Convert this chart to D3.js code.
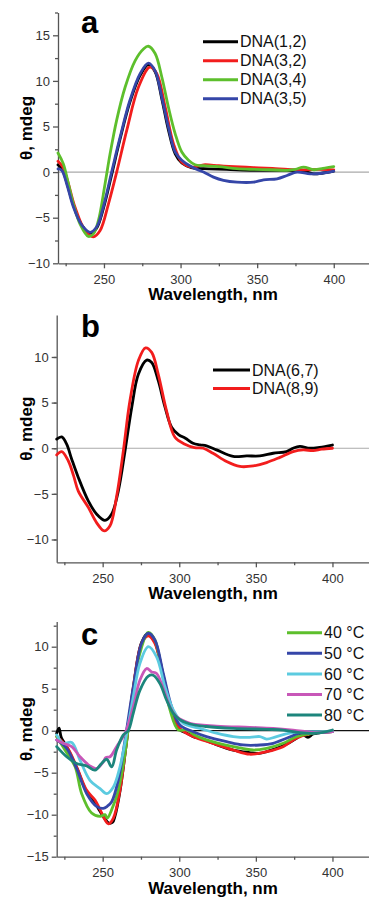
<!DOCTYPE html>
<html>
<head>
<meta charset="utf-8">
<script src="https://cdn.jsdelivr.net/npm/d3@7"></script>
<style>
  body { margin: 0; background: #fff; }
  svg { display: block; font-family: Arial, "Liberation Sans", sans-serif; }
  .axis path, .axis line { stroke: #555; stroke-width: 1.3; }
  .axis text { font-size: 13px; fill: #333; }
  .curve { fill: none; stroke-width: 2.8; stroke-linejoin: round; stroke-linecap: round; }
</style>
</head>
<body>
<svg width="369" height="901"></svg>
<script>
// ---- panel a : CD spectra, [wavelength nm, theta mdeg]
const a_dna12 = [[220,0.8],[222.5,0.4],[225.5,-1.0],[230,-3.6],[235.5,-5.8],[241,-6.7],[245,-6.2],[249.6,-4.0],[255,-0.3],[260.5,3.6],[267,7.7],[273.6,10.6],[279,11.8],[283.4,11.0],[287.8,8.0],[292.1,4.6],[296.5,2.0],[300.8,1.0],[307,0.5],[315,0.37],[330,0.3],[347.7,0.2],[365,0.2],[380,0.1],[387,-0.2],[393,-0.1],[400,0.1]];
const a_dna32 = [[220,1.2],[223,0.6],[226,-0.8],[231,-3.8],[237.6,-6.4],[243,-7.1],[247.5,-6.4],[252.9,-3.5],[258.3,0],[264.9,4.6],[272.5,9.3],[280,11.5],[284.5,10.8],[290,7.1],[295.4,3.1],[300.8,1.1],[307.4,0.55],[315,0.8],[325,0.7],[335,0.6],[347.7,0.5],[360,0.4],[370,0.3],[380,0.25],[390,0.3],[400,0.25]];
const a_dna34 = [[220,2.1],[223.5,0.9],[226.8,-1.3],[230,-3.5],[234.4,-5.7],[239.8,-7.05],[243,-6.8],[246.4,-5.3],[250.7,-1.3],[254,2.0],[258.3,5.7],[263.8,9.3],[270.3,12.2],[275.8,13.5],[279,13.8],[283.4,13.0],[287.8,10.4],[292.1,7.1],[296.5,4.2],[300.8,2.2],[305.2,1.3],[309.5,0.8],[315,0.7],[325,0.6],[336.8,0.37],[348,0.3],[358.6,0.26],[369.5,0.2],[375,0.3],[380.3,0.55],[387,0.26],[393,0.4],[400,0.6]];
const a_dna35 = [[220,0.35],[222.4,0.2],[225.7,-1.3],[230,-3.8],[235.5,-5.8],[241,-6.6],[245.3,-6.0],[249.6,-3.8],[255,0],[260.5,3.8],[267,7.9],[273.6,10.8],[279,11.95],[283.4,11.1],[287.8,8.2],[292.1,4.9],[296.5,2.2],[300.8,1.3],[307.4,0.55],[315,0],[321.5,-0.55],[328,-0.9],[336.8,-1.1],[347.7,-1.1],[354.2,-0.85],[363,-0.73],[369.5,-0.37],[376,0],[384.7,-0.2],[393.4,-0.1],[400,0.1]];

// ---- panel b
const b_dna67 = [[220,1.0],[223.3,1.24],[226.5,0.44],[229.8,-1.2],[234.1,-3.2],[240.7,-5.8],[246,-7.2],[251.5,-7.9],[255.9,-7.2],[260.2,-4.7],[264.6,-0.3],[269,4.5],[273.3,8.1],[278.7,9.65],[282,9.4],[286.3,7.4],[290.7,4.5],[295,2.3],[299.5,1.5],[304,1.1],[309,0.55],[313.5,0.37],[317.8,0.26],[324.3,-0.18],[335.2,-0.9],[344,-0.84],[352.6,-0.84],[361.3,-0.55],[370,-0.37],[374.3,0.0],[378.7,0.2],[385.2,0],[391.7,0.1],[400,0.35]];
const b_dna89 = [[220,-0.73],[223.3,-0.37],[227.6,-1.4],[231,-3.0],[234.1,-4.7],[240.7,-6.5],[246,-8.15],[251,-9.06],[254.8,-8.5],[259.1,-5.3],[263.5,-0.3],[267.8,5.2],[273.3,9.6],[278,11.0],[282,10.5],[286.3,8.1],[291.7,4.1],[297.2,1.2],[303.7,0.44],[310,0.07],[315.7,0],[322,-0.55],[330.9,-1.46],[339.6,-2.0],[348.3,-1.94],[357,-1.57],[365.7,-1.0],[374.3,-0.37],[380.9,-0.18],[387.4,-0.26],[393,-0.1],[400,0]];

// ---- panel c : temperature series
const c_black = [[220,-0.3],[221.5,0.3],[223,-0.8],[226.5,-1.9],[233,-4.4],[239.6,-7.3],[245,-8.6],[248.3,-9.6],[251.5,-10.5],[254,-11.0],[256.5,-10.9],[258,-10.2],[261.3,-7.2],[265.7,-1.2],[270,5.0],[275.4,10.5],[279.8,11.6],[284.1,10.6],[289.6,6.5],[295,2.2],[300.4,0.1],[305,-0.3],[309.1,-0.7],[315,-1.0],[322,-1.5],[335.2,-2.3],[346,-2.6],[352,-2.7],[357,-2.5],[367.8,-1.8],[376.5,-0.9],[380,-0.4],[384,-0.8],[387.4,-0.4],[400,-0.1]];
const c_red = [[220,-0.7],[226.5,-1.9],[233,-4.3],[239.6,-7.1],[245,-8.25],[248.3,-9.4],[251.5,-10.6],[253.7,-11.1],[257,-10.4],[261.3,-7.1],[265.7,-1.1],[270,5.2],[275.4,10.4],[279.8,11.3],[284.1,10.4],[289.6,6.4],[295,2.5],[300.4,0.28],[309.1,-0.7],[322,-1.5],[335.2,-2.3],[346,-2.8],[357,-2.5],[367.8,-1.9],[376.5,-0.9],[387.4,-0.3],[400,-0.12]];
const c_40 = [[220,-0.7],[225.4,-2.3],[232,-4.3],[236.3,-7.5],[242.8,-9.8],[248.3,-10.2],[251.5,-10.0],[253,-10.4],[255.9,-9.4],[260.2,-7.1],[264.6,-2.7],[269,3.65],[274.3,9.2],[279.8,11.7],[284.1,10.8],[288.5,7.2],[293.9,2.5],[299.3,0.1],[304.8,0.1],[310,-0.5],[317.8,-1.1],[335.2,-1.9],[348.3,-2.3],[357,-2.1],[367.8,-1.5],[376.5,-0.7],[387.4,-0.3],[400,-0.12]];
const c_50 = [[220,-1.1],[226.5,-2.1],[233,-4.5],[239.6,-7.5],[246,-9.0],[250.4,-9.25],[253,-9.0],[255.9,-8.45],[260.2,-5.9],[264.6,-1.1],[270,5.2],[275.4,10.4],[279.8,11.6],[284.1,10.8],[289.6,6.8],[295,2.86],[300.4,0.67],[309.1,-0.12],[317.8,-0.7],[330.9,-1.3],[341.7,-1.7],[352.6,-1.7],[361.3,-1.5],[370,-0.9],[378.7,-0.3],[389.6,-0.24],[400,-0.12]];
const c_60 = [[220,-0.5],[224.3,-1.5],[229.8,-1.4],[235.2,-3.5],[241.7,-5.9],[248.3,-6.9],[252.6,-7.5],[257,-6.7],[261.3,-4.3],[265.7,-0.3],[270,4.05],[274.3,8.0],[279.8,10.0],[285.2,8.8],[290.7,5.2],[296,2.5],[302.6,0.87],[313.5,0.28],[324.3,-0.3],[335.2,-0.7],[346,-0.8],[352.6,-0.7],[357,-1.0],[363.5,-0.7],[372.2,-0.3],[383,-0.12],[400,-0.12]];
const c_70 = [[220,-1.1],[224.3,-1.5],[229.8,-1.9],[235.2,-3.1],[241.7,-4.2],[246,-4.5],[250.4,-3.7],[252,-3.2],[254.8,-3.1],[259.1,-1.9],[264.6,-0.3],[270,2.86],[274.3,6.0],[278.7,7.4],[282,7.0],[285.2,6.8],[289.6,5.0],[293.9,2.86],[298.3,1.67],[307,0.87],[324.3,0.55],[346,0.4],[361.3,0.28],[374.3,0.08],[389.6,-0.24],[400,-0.12]];
const c_80 = [[220,-1.9],[226.5,-3.1],[233,-3.9],[239.6,-4.2],[245,-4.7],[249.3,-3.9],[252.6,-3.4],[255.9,-4.3],[259.1,-2.3],[263.5,-0.5],[266.7,0],[270,2.1],[274.3,4.8],[279.8,6.5],[283,6.6],[287.4,5.6],[291.7,3.65],[296,2.1],[300.4,1.3],[307,0.8],[317.8,0.5],[335.2,0.28],[357,0.16],[367.8,0.08],[378.7,-0.24],[389.6,-0.3],[400,0.08]];

// ticks / labels
const xTicks = [250, 300, 350, 400];
const xMinor = [225, 275, 325, 375, 425];
const aTicks = [-10, -5, 0, 5, 10, 15];
const bTicks = [-10, -5, 0, 5, 10];
const cTicks = [-15, -10, -5, 0, 5, 10];

const aNames = ['DNA(1,2)', 'DNA(3,2)', 'DNA(3,4)', 'DNA(3,5)'];
const bNames = ['DNA(6,7)', 'DNA(8,9)'];
const cNames = ['40 °C', '50 °C', '60 °C', '70 °C', '80 °C'];

const BLACK = '#000', RED = '#f21d1d', GREEN = '#5dbf2c', BLUE = '#3546a8',
      CYAN = '#5ccbe0', MAGENTA = '#c857b8', TEAL = '#1c857c';

const svg = d3.select('svg');
svg.append('rect').attr('width', 369).attr('height', 901).attr('fill', '#fff');

const panels = [
  { letter: 'a', left: 58, top: 12.5, bottom: 263.3, yDom: [-10, 17.5], yTicks: aTicks,
    zero: '#aaa', letterY: 33,
    series: [a_dna12, a_dna32, a_dna34, a_dna35], colors: [BLACK, RED, GREEN, BLUE],
    legend: { names: aNames, colors: [BLACK, RED, GREEN, BLUE], x1: 203, x2: 238, y0: 41.7, dy: 19, size: 16 } },
  { letter: 'b', left: 56.7, top: 315, bottom: 562.3, yDom: [-12.5, 14.6], yTicks: bTicks,
    zero: '#aaa', letterY: 337,
    series: [b_dna67, b_dna89], colors: [BLACK, RED],
    legend: { names: bNames, colors: [BLACK, RED], x1: 213, x2: 250, y0: 370, dy: 18.5, size: 16 } },
  { letter: 'c', left: 56.7, top: 621.5, bottom: 856.7, yDom: [-15, 13], yTicks: cTicks,
    zero: '#111', letterY: 645,
    series: [c_black, c_red, c_40, c_50, c_60, c_70, c_80],
    colors: [BLACK, RED, GREEN, BLUE, CYAN, MAGENTA, TEAL],
    legend: { names: cNames, colors: [GREEN, BLUE, CYAN, MAGENTA, TEAL], x1: 287, x2: 322, y0: 632.7, dy: 20.6, size: 16 } }
];

panels.forEach(p => {
  const g = svg.append('g');
  const x = d3.scaleLinear().domain([220, 425]).range([p.left, p.left + 205 * 1.532]);
  const y = d3.scaleLinear().domain(p.yDom).range([p.bottom, p.top]);

  // minor ticks
  const yMinor = d3.range(p.yDom[0] + 2.5, p.yDom[1] + 0.01, 5).filter(v => v < p.yDom[1] + 0.01);
  g.append('g').attr('class', 'axis').attr('transform', `translate(${p.left},0)`)
    .call(d3.axisLeft(y).tickValues(yMinor).tickSize(3).tickFormat(''))
    .call(s => s.select('.domain').remove());
  g.append('g').attr('class', 'axis').attr('transform', `translate(0,${p.bottom})`)
    .call(d3.axisBottom(x).tickValues(xMinor).tickSize(3).tickFormat(''))
    .call(s => s.select('.domain').remove());

  // zero line
  g.append('line')
    .attr('x1', p.left).attr('x2', 369)
    .attr('y1', y(0)).attr('y2', y(0))
    .attr('stroke', p.zero).attr('stroke-width', 1.2);

  // main axes
  g.append('g').attr('class', 'axis').attr('transform', `translate(${p.left},0)`)
    .call(d3.axisLeft(y).tickValues(p.yTicks).tickSize(5).tickSizeOuter(0).tickPadding(3));
  g.append('g').attr('class', 'axis').attr('transform', `translate(0,${p.bottom})`)
    .call(d3.axisBottom(x).tickValues(xTicks).tickSize(5).tickSizeOuter(0).tickPadding(6));

  // curves
  const line = d3.line().x(d => x(d[0])).y(d => y(d[1])).curve(d3.curveCatmullRom.alpha(0.5));
  p.series.forEach((s, i) => {
    g.append('path').attr('class', 'curve').attr('d', line(s)).attr('stroke', p.colors[i]);
  });

  // panel letter
  g.append('text').attr('x', 81).attr('y', p.letterY)
    .attr('font-size', 31).attr('font-weight', 'bold').text(p.letter);

  // axis titles
  const ymid = (p.top + p.bottom) / 2 - 10;
  g.append('text')
    .attr('transform', `translate(32,${ymid}) rotate(-90)`)
    .attr('text-anchor', 'middle').attr('font-size', 17).attr('font-weight', 'bold')
    .text('θ, mdeg');
  g.append('text')
    .attr('x', 213).attr('y', p.bottom + 37)
    .attr('text-anchor', 'middle').attr('font-size', 17).attr('font-weight', 'bold')
    .text('Wavelength, nm');

  // legend
  const L = p.legend;
  L.names.forEach((n, i) => {
    const yy = L.y0 + i * L.dy;
    g.append('line').attr('x1', L.x1).attr('x2', L.x2).attr('y1', yy).attr('y2', yy)
      .attr('stroke', L.colors[i]).attr('stroke-width', 3);
    g.append('text').attr('x', L.x2 + 2).attr('y', yy).attr('dy', '0.36em')
      .attr('font-size', L.size).attr('fill', '#111').text(n);
  });
});
</script>
</body>
</html>
